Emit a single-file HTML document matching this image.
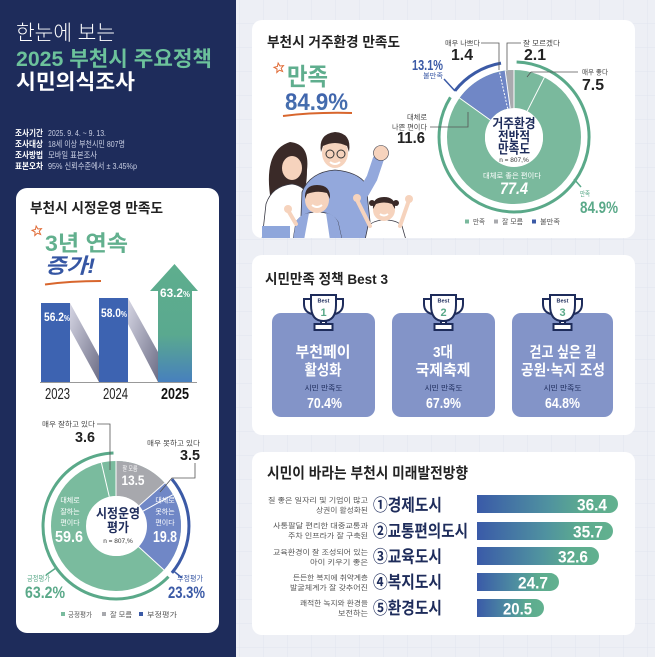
<!DOCTYPE html>
<html><head><meta charset="utf-8"><style>
html,body{margin:0;padding:0;background:#edeff5;}
svg{display:block;}
text{font-family:"Liberation Sans","Noto Sans CJK KR",sans-serif;}
</style></head><body>
<svg width="655" height="657" viewBox="0 0 655 657" xmlns="http://www.w3.org/2000/svg">
<defs>
<pattern id="grid" width="24" height="24" patternUnits="userSpaceOnUse">
<rect width="24" height="24" fill="#edeff5"/>
<path d="M24,0 V24 M0,24 H24" stroke="#e1e4ee" stroke-width="1" fill="none"/>
</pattern>
<linearGradient id="band" x1="0" y1="0" x2="1" y2="1">
<stop offset="0" stop-color="#d6d6e4"/><stop offset="1" stop-color="#6d6e86"/>
</linearGradient>
<linearGradient id="arrowg" x1="0" y1="0" x2="0" y2="1">
<stop offset="0" stop-color="#5eae8e"/><stop offset="0.6" stop-color="#5aa98f"/><stop offset="1" stop-color="#4780bd"/>
</linearGradient>
<linearGradient id="hbar" x1="0" y1="0" x2="1" y2="0">
<stop offset="0" stop-color="#3a5aa8"/><stop offset="0.5" stop-color="#4f91a0"/><stop offset="0.75" stop-color="#5cab8f"/><stop offset="1" stop-color="#62b18f"/>
</linearGradient>
<linearGradient id="numg" x1="0" y1="0" x2="0" y2="1">
<stop offset="0" stop-color="#3c5fab"/><stop offset="1" stop-color="#4b78b0"/>
</linearGradient>
<clipPath id="c1"><rect x="252" y="20" width="383" height="218" rx="10"/></clipPath>
</defs>

<!-- backgrounds -->
<rect x="0" y="0" width="655" height="657" fill="url(#grid)"/>
<rect x="0" y="0" width="236" height="657" fill="#1e2c5b"/>

<!-- header -->
<text x="16" y="40" font-size="21" font-weight="300" fill="#ffffff" textLength="99" lengthAdjust="spacingAndGlyphs">한눈에 보는</text>
<text x="16" y="66" font-size="21" font-weight="bold" fill="#6cc29b" textLength="196" lengthAdjust="spacingAndGlyphs">2025 부천시 주요정책</text>
<text x="16" y="89" font-size="21" font-weight="bold" fill="#ffffff" textLength="119" lengthAdjust="spacingAndGlyphs">시민의식조사</text>
<g font-size="8.5">
<text x="15" y="136" font-weight="bold" fill="#fff" textLength="28" lengthAdjust="spacingAndGlyphs">조사기간</text>
<text x="48" y="136" fill="#c9cfe3" textLength="58" lengthAdjust="spacingAndGlyphs">2025. 9. 4. ~ 9. 13.</text>
<text x="15" y="147" font-weight="bold" fill="#fff" textLength="28" lengthAdjust="spacingAndGlyphs">조사대상</text>
<text x="48" y="147" fill="#c9cfe3" textLength="77" lengthAdjust="spacingAndGlyphs">18세 이상 부천시민 807명</text>
<text x="15" y="158" font-weight="bold" fill="#fff" textLength="28" lengthAdjust="spacingAndGlyphs">조사방법</text>
<text x="48" y="158" fill="#c9cfe3" textLength="49" lengthAdjust="spacingAndGlyphs">모바일 표본조사</text>
<text x="15" y="169" font-weight="bold" fill="#fff" textLength="28" lengthAdjust="spacingAndGlyphs">표본오차</text>
<text x="48" y="169" fill="#c9cfe3" textLength="89" lengthAdjust="spacingAndGlyphs">95% 신뢰수준에서 ± 3.45%p</text>
</g>

<!-- left card -->
<rect x="16" y="188" width="203" height="445" rx="11" fill="#ffffff"/>
<text x="30" y="213" font-size="14" font-weight="bold" fill="#222" textLength="133" lengthAdjust="spacingAndGlyphs">부천시 시정운영 만족도</text>
<polygon transform="translate(37,231) rotate(-10)" points="0,-5 1.29,-1.78 4.76,-1.55 2.09,0.68 2.94,4.05 0,2.2 -2.94,4.05 -2.09,0.68 -4.76,-1.55 -1.29,-1.78" fill="none" stroke="#e06a35" stroke-width="1"/>
<text x="45" y="251" font-size="22" font-weight="bold" fill="#62b08e" textLength="83" lengthAdjust="spacingAndGlyphs">3년 연속</text>
<text x="45" y="273" font-size="21" font-weight="bold" font-style="italic" fill="#3556a3" textLength="50" lengthAdjust="spacingAndGlyphs">증가!</text>
<path d="M45,284.5 Q70,281 101,281" stroke="#d8662d" stroke-width="2" fill="none"/>

<!-- bars -->
<polygon points="70,303 99,356 99,382 70,329" fill="url(#band)"/>
<polygon points="128,298 158,352 158,382 128,324" fill="url(#band)"/>
<rect x="41" y="303" width="29" height="79" fill="#3d63b1"/>
<rect x="99" y="298" width="29" height="84" fill="#3d63b1"/>
<path d="M158,382 V291 H150 L174.5,264 L198,291 H192 V382 Z" fill="url(#arrowg)"/>
<line x1="40" y1="382.5" x2="197" y2="382.5" stroke="#777" stroke-width="0.8"/>
<text x="44" y="321" font-size="12" font-weight="bold" fill="#fff" textLength="26" lengthAdjust="spacingAndGlyphs">56.2<tspan font-size="8">%</tspan></text>
<text x="101" y="317" font-size="12" font-weight="bold" fill="#fff" textLength="26" lengthAdjust="spacingAndGlyphs">58.0<tspan font-size="8">%</tspan></text>
<text x="160" y="297" font-size="12" font-weight="bold" fill="#fff" textLength="30" lengthAdjust="spacingAndGlyphs">63.2<tspan font-size="8">%</tspan></text>
<text x="45" y="399" font-size="16" fill="#222" textLength="25" lengthAdjust="spacingAndGlyphs">2023</text>
<text x="103" y="399" font-size="16" fill="#222" textLength="25" lengthAdjust="spacingAndGlyphs">2024</text>
<text x="161" y="399" font-size="16" font-weight="bold" fill="#111" textLength="28" lengthAdjust="spacingAndGlyphs">2025</text>

<!-- left donut -->
<circle cx="116" cy="526" r="47.5" fill="none" stroke="#7abb9e" stroke-width="35"/>
<circle cx="116" cy="526" r="47.5" fill="none" stroke="#a7a8ad" stroke-width="35" stroke-dasharray="40.29 298.45" transform="rotate(-90 116 526)"/>
<circle cx="116" cy="526" r="47.5" fill="none" stroke="#7087c6" stroke-width="35" stroke-dasharray="69.54 298.45" stroke-dashoffset="-40.29" transform="rotate(-90 116 526)"/>
<g stroke="#fff" stroke-width="1">
<line x1="116" y1="496" x2="116" y2="460"/>
<line x1="138.5" y1="506.2" x2="164.8" y2="483"/>
<line x1="142.3" y1="511.5" x2="172.9" y2="494.7"/>
<line x1="138.1" y1="546.3" x2="163.9" y2="569.9"/>
<line x1="109.3" y1="496.8" x2="101.4" y2="462.7"/>
</g>
<circle cx="117" cy="526" r="30" fill="#fff"/>
<path d="M168.5,576.7 A73,73 0 1 1 113.5,453" fill="none" stroke="#5aa989" stroke-width="3"/>
<path d="M171.9,479.1 A73,73 0 0 1 171.9,572.9" fill="none" stroke="#3b5aa6" stroke-width="3"/>
<line x1="57" y1="567.3" x2="46" y2="575" stroke="#5aa989" stroke-width="1.5"/>
<line x1="172.7" y1="570.3" x2="182.2" y2="578" stroke="#3b5aa6" stroke-width="1.5"/>
<polyline points="97,424 110,424 110,470" fill="none" stroke="#555" stroke-width="0.8"/>
<polyline points="195,463 195,478 172,478 160,492" fill="none" stroke="#555" stroke-width="0.8"/>
<text x="42" y="426.5" font-size="7" fill="#444" textLength="53" lengthAdjust="spacingAndGlyphs">매우 잘하고 있다</text>
<text x="75" y="442" font-size="15" font-weight="bold" fill="#222" textLength="20" lengthAdjust="spacingAndGlyphs">3.6</text>
<text x="147" y="445.5" font-size="7" fill="#444" textLength="53" lengthAdjust="spacingAndGlyphs">매우 못하고 있다</text>
<text x="180" y="460" font-size="15" font-weight="bold" fill="#222" textLength="20" lengthAdjust="spacingAndGlyphs">3.5</text>
<g fill="#fff" text-anchor="middle">
<text x="130" y="470.5" font-size="6.5" textLength="15" lengthAdjust="spacingAndGlyphs">잘 모름</text>
<text x="133" y="485" font-size="14" font-weight="bold" textLength="23" lengthAdjust="spacingAndGlyphs">13.5</text>
<text x="70" y="502.5" font-size="7">대체로</text>
<text x="70" y="514" font-size="7">잘하는</text>
<text x="70" y="525" font-size="7">편이다</text>
<text x="69" y="542" font-size="16" font-weight="bold" textLength="28" lengthAdjust="spacingAndGlyphs">59.6</text>
<text x="165" y="502.5" font-size="7">대체로</text>
<text x="165" y="514" font-size="7">못하는</text>
<text x="165" y="525" font-size="7">편이다</text>
<text x="165" y="542" font-size="16" font-weight="bold" textLength="24" lengthAdjust="spacingAndGlyphs">19.8</text>
</g>
<g text-anchor="middle" fill="#1e2c5b">
<text x="118" y="518" font-size="13" font-weight="bold" textLength="44" lengthAdjust="spacingAndGlyphs">시정운영</text>
<text x="118" y="532" font-size="13" font-weight="bold" textLength="22" lengthAdjust="spacingAndGlyphs">평가</text>
<text x="118" y="543" font-size="6.5" fill="#333">n = 807,%</text>
</g>
<text x="27" y="581" font-size="7.5" fill="#5aa989" textLength="23" lengthAdjust="spacingAndGlyphs">긍정평가</text>
<text x="25" y="598" font-size="17" font-weight="bold" fill="#5aa989" textLength="40" lengthAdjust="spacingAndGlyphs">63.2%</text>
<text x="177" y="581" font-size="7.5" fill="#3b5aa6" textLength="26" lengthAdjust="spacingAndGlyphs">부정평가</text>
<text x="168" y="598" font-size="17" font-weight="bold" fill="#3b5aa6" textLength="37" lengthAdjust="spacingAndGlyphs">23.3%</text>
<rect x="61" y="612" width="4" height="4" fill="#7abb9e"/>
<text x="68" y="617" font-size="7" fill="#555" textLength="24" lengthAdjust="spacingAndGlyphs">긍정평가</text>
<rect x="102" y="612" width="4" height="4" fill="#a7a8ad"/>
<text x="110" y="617" font-size="7" fill="#555" textLength="22" lengthAdjust="spacingAndGlyphs">잘 모름</text>
<rect x="139" y="612" width="4" height="4" fill="#3b5aa6"/>
<text x="147" y="617" font-size="7" fill="#555" textLength="30" lengthAdjust="spacingAndGlyphs">부정평가</text>

<!-- right card 1 -->
<rect x="252" y="20" width="383" height="218" rx="10" fill="#ffffff"/>
<text x="267" y="47" font-size="14" font-weight="bold" fill="#222" textLength="133" lengthAdjust="spacingAndGlyphs">부천시 거주환경 만족도</text>
<polygon transform="translate(279,68) rotate(-10)" points="0,-5 1.29,-1.78 4.76,-1.55 2.09,0.68 2.94,4.05 0,2.2 -2.94,4.05 -2.09,0.68 -4.76,-1.55 -1.29,-1.78" fill="none" stroke="#e06a35" stroke-width="1"/>
<text x="287" y="85" font-size="24" font-weight="bold" fill="#5fae8e" textLength="41" lengthAdjust="spacingAndGlyphs">만족</text>
<text x="285" y="110" font-size="24" font-weight="bold" fill="url(#numg)" textLength="63" lengthAdjust="spacingAndGlyphs">84.9%</text>
<path d="M283,116 Q315,112 352,113" stroke="#d8662d" stroke-width="2" fill="none"/>

<!-- illustration -->
<g clip-path="url(#c1)">
<path d="M270,195 Q264,150 290,142 Q310,144 307,170 Q307,188 302,194 Z" fill="#3a2a28"/>
<ellipse cx="292" cy="168" rx="10" ry="12" fill="#f6d3bd"/>
<path d="M262,240 L266,204 Q272,186 292,184 Q306,186 310,200 L310,240 Z" fill="#ffffff" stroke="#3a3a45" stroke-width="0.8"/>
<rect x="262" y="226" width="28" height="14" fill="#8ea6db"/>
<path d="M300,240 L302,192 Q310,172 335,170 Q358,172 366,184 L372,240 Z" fill="#93a8dc" stroke="#3a3a45" stroke-width="0.8"/>
<path d="M364,192 L372,178 L378,160" stroke="#93a8dc" stroke-width="11" fill="none" stroke-linecap="round"/>
<circle cx="381" cy="153" r="7.5" fill="#f6d3bd" stroke="#3a3a45" stroke-width="0.6"/>
<ellipse cx="335" cy="153" rx="13" ry="15" fill="#f6d3bd"/>
<path d="M321,152 Q318,134 335,132 Q352,133 349,152 L347,146 Q335,140 323,146 Z" fill="#3a2a28"/>
<circle cx="330" cy="154" r="4" fill="none" stroke="#333" stroke-width="1"/>
<circle cx="341" cy="154" r="4" fill="none" stroke="#333" stroke-width="1"/>
<path d="M330,162 Q335,166 340,162" stroke="#fff" stroke-width="2" fill="none"/>
<path d="M293,240 L296,222 Q303,212 317,212 Q332,212 338,222 L342,240 Z" fill="#ffffff" stroke="#3a3a45" stroke-width="0.8"/>
<path d="M296,222 Q300,214 309,213 L304,240 L293,240 Z" fill="#93a8dc"/>
<path d="M338,222 Q334,214 326,213 L330,240 L342,240 Z" fill="#93a8dc"/>
<path d="M296,224 L289,212" stroke="#f6d3bd" stroke-width="4" stroke-linecap="round"/>
<circle cx="288" cy="209" r="4" fill="#f6d3bd"/>
<ellipse cx="317" cy="200" rx="12" ry="13" fill="#f6d3bd"/>
<path d="M305,199 Q304,185 317,185 Q331,185 330,199 L327,193 Q317,190 307,194 Z" fill="#3a2a28"/>
<path d="M312,205 Q317,209 322,205" stroke="#fff" stroke-width="2" fill="none"/>
<path d="M365,240 L368,226 Q374,220 385,220 Q397,220 402,226 L406,240 Z" fill="#ffffff" stroke="#3a3a45" stroke-width="0.8"/>
<path d="M370,226 L358,202" stroke="#f6d3bd" stroke-width="4" stroke-linecap="round"/>
<path d="M400,226 L408,203" stroke="#f6d3bd" stroke-width="4" stroke-linecap="round"/>
<circle cx="357" cy="198" r="4" fill="#f6d3bd"/>
<circle cx="409" cy="199" r="4" fill="#f6d3bd"/>
<ellipse cx="384" cy="210" rx="11" ry="11" fill="#f6d3bd"/>
<path d="M373,209 Q372,197 384,197 Q396,197 395,209 L392,204 Q384,201 376,204 Z" fill="#3a2a28"/>
<circle cx="372" cy="203" r="3" fill="#3a2a28"/>
<circle cx="396" cy="203" r="3" fill="#3a2a28"/>
<path d="M380,214 Q384,217 388,214" stroke="#fff" stroke-width="2" fill="none"/>
</g>

<!-- right donut -->
<circle cx="514" cy="137" r="48" fill="none" stroke="#7ab99d" stroke-width="38"/>
<circle cx="514" cy="137" r="48" fill="none" stroke="#7087c6" stroke-width="38" stroke-dasharray="39.21 301.59" stroke-dashoffset="-256.05" transform="rotate(-90 514 137)"/>
<circle cx="514" cy="137" r="48" fill="none" stroke="#a9aaae" stroke-width="38" stroke-dasharray="6.33 301.59" stroke-dashoffset="-295.26" transform="rotate(-90 514 137)"/>
<g stroke="#fff" stroke-width="1">
<line x1="527.2" y1="111.2" x2="544.4" y2="77.3"/>
<line x1="490.4" y1="120.1" x2="459.5" y2="98"/>
<line x1="507.7" y1="108.7" x2="499.4" y2="71.6" stroke-dasharray="2 1.5"/>
<line x1="510.2" y1="108.3" x2="505.2" y2="70.6"/>
<line x1="514" y1="108" x2="514" y2="70"/>
</g>
<circle cx="514" cy="138" r="29" fill="#fff"/>
<path d="M516.6,62 A75,75 0 1 1 450.4,97.3" fill="none" stroke="#5aa989" stroke-width="3"/>
<path d="M454.9,90.8 A75,75 0 0 1 501,63.1" fill="none" stroke="#3b5aa6" stroke-width="3"/>
<line x1="574" y1="179" x2="581" y2="187" stroke="#5aa989" stroke-width="1.5"/>
<line x1="455" y1="91" x2="444" y2="79" stroke="#3b5aa6" stroke-width="1.5"/>
<g fill="none" stroke="#555" stroke-width="0.8">
<polyline points="481,43 499,43 499,70"/>
<polyline points="521,43 507,43 507,70"/>
<polyline points="527,77 531,72 578,72"/>
<polyline points="430,127 468,127 468,112"/>
</g>
<g text-anchor="middle" fill="#1e2c5b">
<text x="514" y="128" font-size="13" font-weight="bold" textLength="43" lengthAdjust="spacingAndGlyphs">거주환경</text>
<text x="514" y="141" font-size="13" font-weight="bold" textLength="32" lengthAdjust="spacingAndGlyphs">전반적</text>
<text x="514" y="153.5" font-size="13" font-weight="bold" textLength="32" lengthAdjust="spacingAndGlyphs">만족도</text>
<text x="514" y="162" font-size="6.5" fill="#333">n = 807,%</text>
</g>
<text x="512" y="178" font-size="7" fill="#fff" text-anchor="middle" textLength="58" lengthAdjust="spacingAndGlyphs">대체로 좋은 편이다</text>
<text x="514" y="194" font-size="17" font-weight="bold" font-style="italic" fill="#fff" text-anchor="middle" textLength="28" lengthAdjust="spacingAndGlyphs">77.4</text>
<text x="445" y="45.5" font-size="7" fill="#444" textLength="35" lengthAdjust="spacingAndGlyphs">매우 나쁘다</text>
<text x="451" y="60" font-size="16" font-weight="bold" fill="#222" textLength="22" lengthAdjust="spacingAndGlyphs">1.4</text>
<text x="523" y="45.5" font-size="7" fill="#444" textLength="37" lengthAdjust="spacingAndGlyphs">잘 모르겠다</text>
<text x="524" y="60" font-size="16" font-weight="bold" fill="#222" textLength="22" lengthAdjust="spacingAndGlyphs">2.1</text>
<text x="582" y="74.5" font-size="7" fill="#444" textLength="26" lengthAdjust="spacingAndGlyphs">매우 좋다</text>
<text x="582" y="90" font-size="16" font-weight="bold" fill="#222" textLength="22" lengthAdjust="spacingAndGlyphs">7.5</text>
<text x="427" y="119.5" font-size="7" fill="#444" text-anchor="end" textLength="20" lengthAdjust="spacingAndGlyphs">대체로</text>
<text x="427" y="129.5" font-size="7" fill="#444" text-anchor="end" textLength="35" lengthAdjust="spacingAndGlyphs">나쁜 편이다</text>
<text x="425" y="143" font-size="16" font-weight="bold" fill="#222" text-anchor="end" textLength="28" lengthAdjust="spacingAndGlyphs">11.6</text>
<text x="412" y="70" font-size="15" font-weight="bold" fill="#3b5aa6" textLength="31" lengthAdjust="spacingAndGlyphs">13.1%</text>
<text x="423" y="78" font-size="7" fill="#3b5aa6" textLength="20" lengthAdjust="spacingAndGlyphs">불만족</text>
<text x="580" y="196" font-size="7" fill="#5aa989" textLength="10" lengthAdjust="spacingAndGlyphs">만족</text>
<text x="580" y="213" font-size="17" font-weight="bold" fill="#5aa989" textLength="38" lengthAdjust="spacingAndGlyphs">84.9%</text>
<rect x="465" y="219.5" width="4" height="4" fill="#7ab99d"/>
<text x="473" y="224" font-size="7" fill="#555" textLength="12" lengthAdjust="spacingAndGlyphs">만족</text>
<rect x="494" y="219.5" width="4" height="4" fill="#a9aaae"/>
<text x="502" y="224" font-size="7" fill="#555" textLength="21" lengthAdjust="spacingAndGlyphs">잘 모름</text>
<rect x="532" y="219.5" width="4" height="4" fill="#3b5aa6"/>
<text x="540" y="224" font-size="7" fill="#555" textLength="20" lengthAdjust="spacingAndGlyphs">불만족</text>

<!-- right card 2 -->
<rect x="252" y="255" width="383" height="180" rx="10" fill="#ffffff"/>
<text x="265" y="284" font-size="14" font-weight="bold" fill="#222" textLength="123" lengthAdjust="spacingAndGlyphs">시민만족 정책 Best 3</text>
<rect x="272" y="313" width="103" height="104" rx="9" fill="#8394c8"/>
<rect x="392" y="313" width="103" height="104" rx="9" fill="#8394c8"/>
<rect x="512" y="313" width="101" height="104" rx="9" fill="#8394c8"/>
<g id="tro" fill="#fff" stroke="#1e2c5b" stroke-width="2">
<path d="M311,295 H336 V305 Q336,321 323.5,321 Q311,321 311,305 Z"/>
<path d="M311,299 H304 V304 Q304,312 312,314" fill="none"/>
<path d="M336,299 H343 V304 Q343,312 335,314" fill="none"/>
<rect x="321" y="321" width="5" height="3"/>
<rect x="314.5" y="324" width="18" height="6"/>
</g>
<use href="#tro" transform="translate(120,0)"/>
<use href="#tro" transform="translate(239,0)"/>
<g text-anchor="middle" font-weight="bold">
<text x="323.5" y="302.5" font-size="5.5" fill="#1e2c5b">Best</text>
<text x="323.5" y="316" font-size="11" fill="#5aa989">1</text>
<text x="443.5" y="302.5" font-size="5.5" fill="#1e2c5b">Best</text>
<text x="443.5" y="316" font-size="11" fill="#5aa989">2</text>
<text x="562.5" y="302.5" font-size="5.5" fill="#1e2c5b">Best</text>
<text x="562.5" y="316" font-size="11" fill="#5aa989">3</text>
</g>
<g text-anchor="middle" fill="#fff" font-weight="bold" font-size="15">
<text x="323" y="357" textLength="55" lengthAdjust="spacingAndGlyphs">부천페이</text>
<text x="323" y="375" textLength="37" lengthAdjust="spacingAndGlyphs">활성화</text>
<text x="443" y="357" textLength="20" lengthAdjust="spacingAndGlyphs">3대</text>
<text x="443" y="375" textLength="55" lengthAdjust="spacingAndGlyphs">국제축제</text>
<text x="563" y="357" textLength="67" lengthAdjust="spacingAndGlyphs">걷고 싶은 길</text>
<text x="563" y="375" textLength="84" lengthAdjust="spacingAndGlyphs">공원·녹지 조성</text>
</g>
<g text-anchor="middle" fill="#1e2c5b" font-size="7.5">
<text x="323.5" y="390.5" textLength="38" lengthAdjust="spacingAndGlyphs">시민 만족도</text>
<text x="443.5" y="390.5" textLength="38" lengthAdjust="spacingAndGlyphs">시민 만족도</text>
<text x="562.5" y="390.5" textLength="38" lengthAdjust="spacingAndGlyphs">시민 만족도</text>
</g>
<g text-anchor="middle" fill="#fff" font-weight="bold" font-size="15">
<text x="324.5" y="408" textLength="35" lengthAdjust="spacingAndGlyphs">70.4%</text>
<text x="443.5" y="408" textLength="35" lengthAdjust="spacingAndGlyphs">67.9%</text>
<text x="562.5" y="408" textLength="35" lengthAdjust="spacingAndGlyphs">64.8%</text>
</g>

<!-- right card 3 -->
<rect x="252" y="452" width="383" height="183" rx="10" fill="#ffffff"/>
<text x="267" y="478" font-size="15" font-weight="bold" fill="#222" textLength="201" lengthAdjust="spacingAndGlyphs">시민이 바라는 부천시 미래발전방향</text>
<g text-anchor="end" fill="#555" font-size="7">
<text x="368" y="502.5" textLength="100" lengthAdjust="spacingAndGlyphs">질 좋은 일자리 및 기업이 많고</text>
<text x="368" y="512.5" textLength="52" lengthAdjust="spacingAndGlyphs">상권이 활성화된</text>
<text x="368" y="528" textLength="95" lengthAdjust="spacingAndGlyphs">사통팔달 편리한 대중교통과</text>
<text x="368" y="538" textLength="80" lengthAdjust="spacingAndGlyphs">주차 인프라가 잘 구축된</text>
<text x="368" y="554.5" textLength="95" lengthAdjust="spacingAndGlyphs">교육환경이 잘 조성되어 있는</text>
<text x="368" y="564.5" textLength="58" lengthAdjust="spacingAndGlyphs">아이 키우기 좋은</text>
<text x="368" y="580" textLength="75" lengthAdjust="spacingAndGlyphs">든든한 복지에 취약계층</text>
<text x="368" y="590" textLength="78" lengthAdjust="spacingAndGlyphs">발굴체계가 잘 갖추어진</text>
<text x="368" y="605.5" textLength="68" lengthAdjust="spacingAndGlyphs">쾌적한 녹지와 환경을</text>
<text x="368" y="615.5" textLength="30" lengthAdjust="spacingAndGlyphs">보전하는</text>
</g>
<g fill="#1e2c5b" font-weight="bold" font-size="17">
<text x="373" y="511" textLength="69" lengthAdjust="spacingAndGlyphs">①경제도시</text>
<text x="373" y="537" textLength="95" lengthAdjust="spacingAndGlyphs">②교통편의도시</text>
<text x="373" y="562.5" textLength="69" lengthAdjust="spacingAndGlyphs">③교육도시</text>
<text x="373" y="588" textLength="69" lengthAdjust="spacingAndGlyphs">④복지도시</text>
<text x="373" y="614" textLength="69" lengthAdjust="spacingAndGlyphs">⑤환경도시</text>
</g>
<path d="M477,495 H609 A9,9 0 0 1 609,513 H477 Z" fill="url(#hbar)"/>
<path d="M477,522 H604 A9,9 0 0 1 604,540 H477 Z" fill="url(#hbar)"/>
<path d="M477,547 H590 A9,9 0 0 1 590,565 H477 Z" fill="url(#hbar)"/>
<path d="M477,573 H550 A9,9 0 0 1 550,591 H477 Z" fill="url(#hbar)"/>
<path d="M477,599 H535 A9,9 0 0 1 535,617 H477 Z" fill="url(#hbar)"/>
<g fill="#fff" font-weight="bold" font-size="17" text-anchor="end">
<text x="607" y="510.5" textLength="30" lengthAdjust="spacingAndGlyphs">36.4</text>
<text x="603" y="537.5" textLength="30" lengthAdjust="spacingAndGlyphs">35.7</text>
<text x="588" y="562.5" textLength="30" lengthAdjust="spacingAndGlyphs">32.6</text>
<text x="548" y="588.5" textLength="30" lengthAdjust="spacingAndGlyphs">24.7</text>
<text x="532" y="614.5" textLength="29" lengthAdjust="spacingAndGlyphs">20.5</text>
</g>
</svg>
</body></html>
